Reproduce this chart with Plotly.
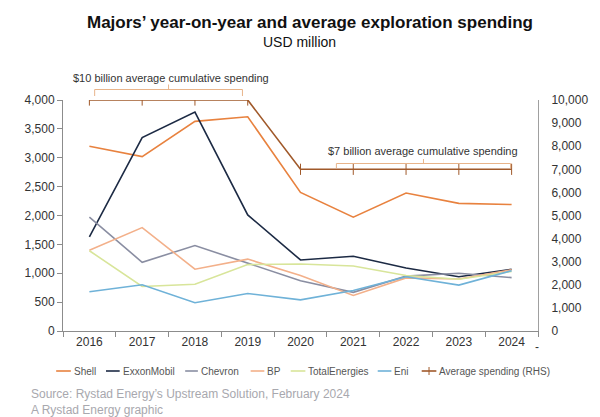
import plotly.graph_objects as go

years = ["2016", "2017", "2018", "2019", "2020", "2021", "2022", "2023", "2024"]
shell = [3200, 3020, 3630, 3710, 2400, 1970, 2390, 2210, 2190]
exxon = [1630, 3350, 3790, 2010, 1230, 1295, 1090, 940, 1070]
chevron = [1970, 1190, 1480, 1180, 870, 670, 950, 1000, 925]
bp = [1400, 1790, 1070, 1245, 960, 615, 920, 900, 1060]
total = [1390, 770, 810, 1150, 1160, 1125, 960, 895, 1030]
eni = [680, 800, 490, 650, 540, 700, 940, 795, 1045]
avg = [10000, 10000, 10000, 10000, 7000, 7000, 7000, 7000, 7000]

names = ["Shell", "ExxonMobil", "Chevron", "BP", "TotalEnergies", "Eni"]
colors = ["#e8823f", "#1c2a44", "#8a8ea2", "#f3b08a", "#d8e59a", "#6fb2d8"]
values = [shell, exxon, chevron, bp, total, eni]
avg_name = "Average spending (RHS)"
avg_color = "#a0592a"

# page body has an 8px margin; work in reference page pixels and offset
OFF = 8
W, H = 600 - OFF, 417 - OFF
PLOT_L, PLOT_R, PLOT_T, PLOT_B = 63, 549, 100, 331
L = PLOT_L - OFF
T = PLOT_T - OFF
PW = PLOT_R - PLOT_L
PH = PLOT_B - PLOT_T
R = W - L - PW
B = H - T - PH


def px(x):
    return (x - PLOT_L) / PW


def py(y):
    return (PLOT_B - y) / PH


fig = go.Figure()
for name, vals, col in zip(names, values, colors):
    fig.add_trace(go.Scatter(x=years, y=vals, name=name, mode="lines",
                             line=dict(color=col, width=1.6)))
fig.add_trace(go.Scatter(x=years, y=avg, name=avg_name, yaxis="y2",
                         mode="lines+markers",
                         line=dict(color=avg_color, width=1.6),
                         marker=dict(symbol="line-ns", size=8,
                                     line=dict(color=avg_color, width=1))))

brk = "#e8b48a"
shapes = [
    dict(type="path", xref="x", yref="paper",
         path=f"M 0.1,{py(96)} L 0.1,{py(89.5)} L 2.9,{py(89.5)} L 2.9,{py(96)}",
         line=dict(color=brk, width=1)),
    dict(type="line", xref="x", yref="paper", x0=1.5, x1=1.5, y0=py(89.5), y1=py(84.5),
         line=dict(color=brk, width=1)),
    dict(type="path", xref="x", yref="paper",
         path=f"M 4.68,{py(168)} L 4.68,{py(163.5)} L 7.98,{py(163.5)} L 7.98,{py(168)}",
         line=dict(color=brk, width=1)),
    dict(type="line", xref="x", yref="paper", x0=6.33, x1=6.33, y0=py(163.5), y1=py(159),
         line=dict(color=brk, width=1)),
]

annotations = [
    dict(text="<b>Majors’ year-on-year and average exploration spending</b>",
         xref="paper", yref="paper", x=px(316), y=py(22), showarrow=False,
         font=dict(size=17, color="#111111"), xanchor="center", yanchor="middle"),
    dict(text="USD million", xref="paper", yref="paper", x=px(305), y=py(42),
         showarrow=False, font=dict(size=14, color="#111111"),
         xanchor="center", yanchor="middle"),
    dict(text="$10 billion average cumulative spending", xref="x", yref="paper",
         x=1.55, y=py(78), showarrow=False, font=dict(size=11, color="#333333"),
         xanchor="center", yanchor="middle"),
    dict(text="$7 billion average cumulative spending", xref="x", yref="paper",
         x=6.33, y=py(151), showarrow=False, font=dict(size=11, color="#333333"),
         xanchor="center", yanchor="middle"),
    dict(text="-", xref="paper", yref="paper", x=px(548), y=py(347),
         showarrow=False, font=dict(size=12, color="#333333"),
         xanchor="center", yanchor="middle"),
    dict(text="Source: Rystad Energy’s Upstream Solution, February 2024<br>A Rystad Energy graphic",
         xref="paper", yref="paper", x=px(28), y=py(402),
         showarrow=False, font=dict(size=12, color="#a8a8ae"), align="left",
         xanchor="left", yanchor="middle"),
]

# legend drawn as line samples + labels
leg_y = 371
leg_lines = [(56, 71), (107, 121), (188, 201), (255, 269), (296, 311), (385, 399), (430, 445)]
leg_names = names + [avg_name]
leg_colors = colors + [avg_color]
for (x0, x1), nm, col in zip(leg_lines, leg_names, leg_colors):
    shapes.append(dict(type="line", xref="paper", yref="paper", x0=px(x0), x1=px(x1),
                       y0=py(leg_y), y1=py(leg_y), line=dict(color=col, width=1.6)))
    annotations.append(dict(text=nm, xref="paper", yref="paper", x=px(x1 + 1), y=py(leg_y),
                            showarrow=False, font=dict(size=10, color="#555555"),
                            xanchor="left", yanchor="middle"))
cx = (leg_lines[-1][0] + leg_lines[-1][1]) / 2
shapes.append(dict(type="line", xref="paper", yref="paper", x0=px(cx), x1=px(cx),
                   y0=py(leg_y - 4), y1=py(leg_y + 4), line=dict(color=avg_color, width=1)))

fig.update_layout(
    width=W, height=H,
    margin=dict(l=L, r=R, t=T, b=B),
    paper_bgcolor="white", plot_bgcolor="white",
    font=dict(family="Liberation Sans, Arial, sans-serif", color="#333333", size=12),
    showlegend=False,
    xaxis=dict(type="category", showgrid=False, showline=True, linecolor="#8c8c8c",
               linewidth=1, ticks="outside", tickson="boundaries", ticklen=5,
               tickcolor="#8c8c8c", tickfont=dict(size=12, color="#333333"),
               range=[-0.5, 8.5]),
    yaxis=dict(range=[0, 4000], dtick=500, tickformat=",", showgrid=False,
               showline=True, linecolor="#8c8c8c", linewidth=1, ticks="outside",
               ticklen=5, tickcolor="#8c8c8c", zeroline=False,
               tickfont=dict(size=12, color="#333333")),
    yaxis2=dict(range=[0, 10000], dtick=1000, tickformat=",", overlaying="y",
                side="right", showgrid=False, showline=True, linecolor="#a0a0a0",
                linewidth=1, ticks="", zeroline=False, ticklabelstandoff=10,
                tickfont=dict(size=12, color="#333333")),
    shapes=shapes,
    annotations=annotations,
)

fig.write_html("out.html")
